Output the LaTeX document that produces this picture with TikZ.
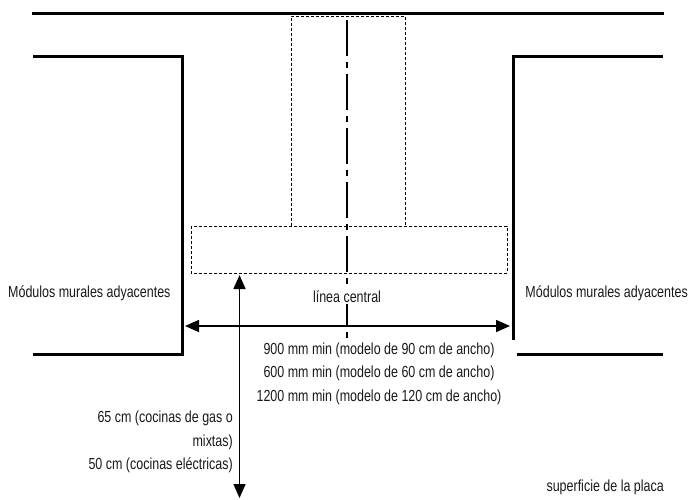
\documentclass[tikz,border=0pt]{standalone}
\usepackage{fontspec}
\setmainfont[FakeStretch=0.78]{Liberation Sans}
\usetikzlibrary{arrows.meta}
\tikzset{
  x=1pt,y=-1pt,
  wall/.style={line width=3pt,line join=miter},
  hidden/.style={line width=1pt,dash pattern=on 2.6pt off 2.4pt},
  axisline/.style={line width=1.5pt,dash pattern=on 36pt off 6pt on 6pt off 6pt},
  dim/.style={line width=1.6pt,{Triangle[length=14pt,width=12pt]}-{Triangle[length=14pt,width=12pt]}},
  lbl/.style={font=\fontsize{16pt}{18pt}\selectfont,inner sep=0pt,text=black!90},
}
\begin{document}
\begin{tikzpicture}
\useasboundingbox (0,0) rectangle (688,499);
\coordinate (topL) at (32,13);
\coordinate (topR) at (664,13);
\coordinate (la) at (33,56);
\coordinate (lb) at (182,56);
\coordinate (lc) at (182,354);
\coordinate (ld) at (33,354);
\coordinate (ra) at (663,56);
\coordinate (rb) at (513,56);
\coordinate (rc) at (513,340);
\coordinate (rd) at (517,354);
\coordinate (re) at (663,354);
\coordinate (axT) at (347,20);
\coordinate (axB) at (347,338);
\coordinate (wL) at (185,326);
\coordinate (wR) at (510,326);
\coordinate (hT) at (239.5,275);
\coordinate (hB) at (239.5,498);
\draw[wall] (topL) -- (topR);
\draw[wall] (la) -- (lb) -- (lc) -- (ld);
\draw[wall] (ra) -- (rb) -- (rc);
\draw[wall] (rd) -- (re);
\draw[hidden] (291,226) -- (291,16) -- (405,16) -- (405,226);
\draw[hidden] (191,226) rectangle (507,273);
\draw[axisline] (axT) -- (axB);
\node[lbl,fill=white,inner xsep=3pt,inner ysep=2pt] (central) at (347,296.5) {línea central};
\draw[dim] (wL) -- (wR);
\draw[dim] (hT) -- (hB);
\node[lbl,anchor=west] (ml) at (8,293) {Módulos murales adyacentes};
\node[lbl,anchor=east] (mr) at (688,293) {Módulos murales adyacentes};
\node[lbl] (a) at (379,350) {900 mm min (modelo de 90 cm de ancho)};
\node[lbl] (b) at (379,373.5) {600 mm min (modelo de 60 cm de ancho)};
\node[lbl] (c) at (379,397) {1200 mm min (modelo de 120 cm de ancho)};
\node[lbl,anchor=east] (d) at (233,418.5) {65 cm (cocinas de gas o};
\node[lbl,anchor=east] (e) at (233,442) {mixtas)};
\node[lbl,anchor=east] (f) at (233,465) {50 cm (cocinas eléctricas)};
\node[lbl,anchor=east] (g) at (664,487) {superficie de la placa};
\end{tikzpicture}
\end{document}
